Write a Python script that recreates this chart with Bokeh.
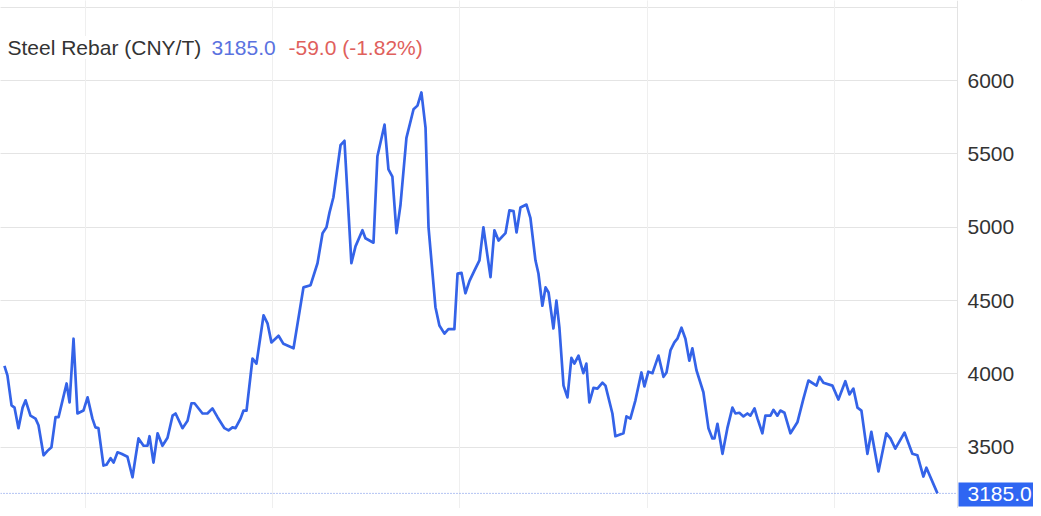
from bokeh.plotting import figure
from bokeh.models import Range1d, FixedTicker, Grid, Label, Span, BoxAnnotation, ColumnDataSource
from bokeh.core.properties import value
from bokeh.embed import file_html
from bokeh.resources import INLINE

# decimal-year timestamps and Steel Rebar price (CNY/T)
years = [
    2019.567, 2019.583, 2019.605, 2019.621, 2019.642, 2019.664, 2019.680, 2019.706, 2019.733, 2019.749,
    2019.776, 2019.797, 2019.818, 2019.840, 2019.856, 2019.899, 2019.915, 2019.936, 2019.957, 2019.989,
    2020.011, 2020.037, 2020.053, 2020.069, 2020.096, 2020.112, 2020.134, 2020.150, 2020.171, 2020.192,
    2020.224, 2020.251, 2020.267, 2020.283, 2020.310, 2020.331, 2020.342, 2020.363, 2020.385, 2020.411,
    2020.438, 2020.465, 2020.481, 2020.518, 2020.545, 2020.566, 2020.582, 2020.625, 2020.651, 2020.678,
    2020.705, 2020.742, 2020.764, 2020.785, 2020.801, 2020.828, 2020.844, 2020.860, 2020.892, 2020.913,
    2020.951, 2020.972, 2020.993, 2021.031, 2021.057, 2021.111, 2021.164, 2021.202, 2021.239, 2021.266,
    2021.287, 2021.303, 2021.324, 2021.362, 2021.383, 2021.420, 2021.442, 2021.479, 2021.495, 2021.538,
    2021.559, 2021.597, 2021.618, 2021.639, 2021.661, 2021.682, 2021.714, 2021.752, 2021.773, 2021.794,
    2021.816, 2021.832, 2021.869, 2021.890, 2021.917, 2021.938, 2021.970, 2021.987, 2022.008, 2022.029,
    2022.051, 2022.077, 2022.104, 2022.125, 2022.163, 2022.184, 2022.206, 2022.243, 2022.264, 2022.286,
    2022.302, 2022.323, 2022.355, 2022.376, 2022.403, 2022.419, 2022.440, 2022.457, 2022.473, 2022.499,
    2022.515, 2022.531, 2022.553, 2022.574, 2022.595, 2022.611, 2022.633, 2022.659, 2022.675, 2022.691,
    2022.713, 2022.734, 2022.761, 2022.777, 2022.814, 2022.830, 2022.873, 2022.889, 2022.910, 2022.937,
    2022.969, 2022.985, 2023.006, 2023.028, 2023.060, 2023.087, 2023.103, 2023.124, 2023.145, 2023.161,
    2023.183, 2023.204, 2023.225, 2023.241, 2023.263, 2023.300, 2023.327, 2023.348, 2023.359, 2023.375,
    2023.402, 2023.428, 2023.455, 2023.471, 2023.492, 2023.514, 2023.535, 2023.551, 2023.573, 2023.589,
    2023.615, 2023.631, 2023.658, 2023.674, 2023.695, 2023.711, 2023.733, 2023.765, 2023.802, 2023.834,
    2023.861, 2023.904, 2023.920, 2023.941, 2023.989, 2024.021, 2024.058, 2024.080, 2024.101, 2024.123,
    2024.144, 2024.176, 2024.197, 2024.235, 2024.277, 2024.299, 2024.325, 2024.374, 2024.416, 2024.443,
    2024.475, 2024.491, 2024.550,
]
prices = [
    4055, 3990, 3785, 3770, 3630, 3770, 3820, 3715, 3695, 3650,
    3445, 3475, 3500, 3705, 3705, 3935, 3805, 4240, 3730, 3750,
    3840, 3695, 3635, 3630, 3375, 3380, 3425, 3395, 3465, 3455,
    3435, 3295, 3430, 3560, 3510, 3510, 3575, 3395, 3595, 3510,
    3565, 3715, 3730, 3630, 3680, 3800, 3800, 3730, 3730, 3765,
    3705, 3630, 3615, 3635, 3630, 3695, 3750, 3750, 4105, 4070,
    4400, 4345, 4215, 4260, 4205, 4175, 4590, 4605, 4755, 4960,
    5000, 5100, 5205, 5560, 5590, 4755, 4870, 4980, 4925, 4895,
    5485, 5700, 5395, 5345, 4960, 5150, 5610, 5805, 5830, 5920,
    5680, 5000, 4455, 4330, 4275, 4305, 4305, 4685, 4690, 4550,
    4635, 4705, 4775, 5000, 4660, 4980, 4910, 4960, 5115, 5110,
    4965, 5135, 5155, 5065, 4775, 4685, 4465, 4590, 4555, 4310,
    4500, 4315, 3920, 3840, 4110, 4070, 4125, 4005, 4070, 3805,
    3905, 3900, 3940, 3920, 3730, 3575, 3595, 3710, 3695, 3820,
    4010, 3915, 4015, 4005, 4125, 3980, 4010, 4160, 4215, 4240,
    4315, 4240, 4090, 4175, 4025, 3875, 3630, 3560, 3560, 3660,
    3455, 3630, 3770, 3730, 3735, 3710, 3730, 3715, 3765, 3695,
    3595, 3715, 3715, 3755, 3715, 3750, 3735, 3595, 3670, 3830,
    3955, 3920, 3980, 3940, 3920, 3825, 3950, 3860, 3900, 3770,
    3750, 3455, 3605, 3335, 3595, 3560, 3490, 3600, 3455, 3445,
    3300, 3360, 3185,
]
year_ticks = [2020, 2021, 2022, 2023, 2024]
price_ticks = [3500, 4000, 4500, 5000, 5500, 6000]
price_tick_labels = ["3500", "4000", "4500", "5000", "5500", "6000"]
title_name = "Steel Rebar (CNY/T)"
last_price = "3185.0"
change_text = "-59.0 (-1.82%)"
last_value = 3185.0

FONT = "Liberation Sans"
FS = "21px"
LINE_BLUE = "#3463e8"

# view window (time span shown, and where the price scale starts)
X_START, X_END = 2019.546, 2025.063
SCALE_X = 2024.657          # right edge of the plotting area / price scale line
Y_START, Y_END = 3082, 6547

src = ColumnDataSource(dict(x=years, y=prices))

p = figure(
    width=1033, height=508,
    output_backend="svg", toolbar_location=None,
    x_axis_location=None, y_axis_location=None,
    x_range=Range1d(X_START, X_END), y_range=Range1d(Y_START, Y_END),
    min_border=0,
    background_fill_color="white", border_fill_color="white",
)
p.outline_line_color = None

# grids
p.add_layout(Grid(dimension=1, ticker=FixedTicker(ticks=price_ticks + [6500]),
                  grid_line_color="#e4e4e4", grid_line_width=1))
p.add_layout(Grid(dimension=0, ticker=FixedTicker(ticks=year_ticks),
                  grid_line_color="#efefef", grid_line_width=1))

# last value dotted line
p.add_layout(Span(location=last_value, dimension="width", line_color="#6a8ae6",
                  line_dash="1 2", line_width=1, level="underlay"))

# price-scale strip on the right (covers grid lines there)
p.add_layout(BoxAnnotation(left=SCALE_X, fill_color="white", fill_alpha=1.0,
                           line_color=None, level="underlay"))
p.add_layout(Span(location=SCALE_X, dimension="height", line_color="#e3e3e3",
                  line_width=1, level="underlay"))

# price scale labels
p.text(x=[SCALE_X] * len(price_ticks), y=price_ticks, text=price_tick_labels,
       x_offset=10, text_font=value(FONT), text_font_size=value(FS),
       text_color="#333333", text_baseline="middle", text_align="left")

p.line("x", "y", source=src, line_color=LINE_BLUE, line_width=2.7, line_join="round")

# title made of three coloured parts
common = dict(x=X_START, y=6226, x_units="data", y_units="data",
              text_font=FONT, text_font_size=FS, text_baseline="middle",
              text_align="left", background_fill_color="white")
p.add_layout(Label(text=title_name, x_offset=7, text_color="#333333", **common))
p.add_layout(Label(text=last_price, x_offset=211, text_color="#5a72e0", **common))
p.add_layout(Label(text=change_text, x_offset=288, text_color="#e0605c", **common))

# last price tag on the scale
p.add_layout(Label(x=SCALE_X, y=last_value, x_offset=1, y_offset=-1, text=last_price,
                   text_font=FONT, text_font_size=FS, text_color="white",
                   text_baseline="middle", text_align="left",
                   background_fill_color="#2f66f2",
                   padding=dict(left=9, right=10, top=5, bottom=5)))

open("out.html", "w").write(file_html(p, INLINE))
